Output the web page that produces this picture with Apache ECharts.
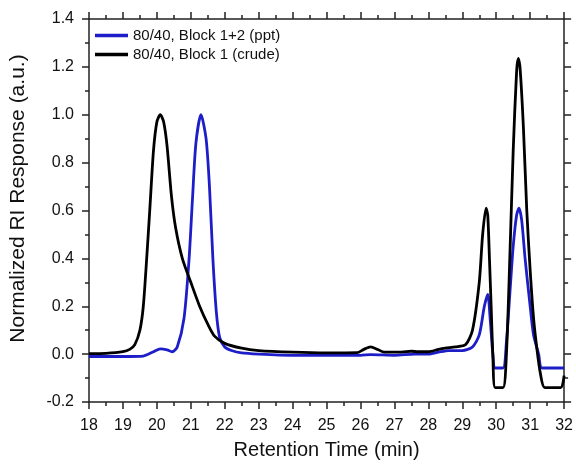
<!DOCTYPE html>
<html>
<head>
<meta charset="utf-8">
<script src="https://cdn.jsdelivr.net/npm/echarts@6/dist/echarts.min.js"></script>
<style>
html, body { margin: 0; padding: 0; background: #fff; }
#chart { width: 576px; height: 465px; }
</style>
</head>
<body>
<div id="chart"></div>
<script>
// 80/40, Block 1+2 (ppt)
var pptTime = [18.0, 19.0, 19.6, 19.9, 20.1, 20.3, 20.45, 20.6, 20.8, 20.95, 21.05, 21.15, 21.3, 21.45, 21.55, 21.65, 21.75, 21.85, 22.0, 22.2, 22.5, 23.0, 24.0, 26.0, 26.3, 27.0, 27.6, 28.0, 28.3, 28.6, 29.0, 29.3, 29.5, 29.65, 29.75, 29.82, 29.9, 29.97, 30.2, 30.3, 30.4, 30.5, 30.6, 30.67, 30.75, 30.85, 31.0, 31.1, 31.25, 31.35, 32.0];
var pptValue = [-0.01, -0.01, -0.008, 0.01, 0.022, 0.018, 0.01, 0.03, 0.15, 0.4, 0.65, 0.88, 1.0, 0.9, 0.7, 0.4, 0.18, 0.07, 0.03, 0.015, 0.005, 0.0, -0.005, -0.005, -0.002, -0.005, 0.0, 0.0, 0.008, 0.015, 0.015, 0.03, 0.08, 0.2, 0.25, 0.15, 0.0, -0.058, -0.058, 0.05, 0.25, 0.45, 0.58, 0.61, 0.56, 0.4, 0.2, 0.08, 0.0, -0.058, -0.058];

// 80/40, Block 1 (crude)
var crudeTime = [18.0, 18.5, 19.0, 19.2, 19.35, 19.5, 19.6, 19.7, 19.79, 19.9, 20.0, 20.1, 20.2, 20.3, 20.43, 20.55, 20.75, 21.0, 21.26, 21.5, 21.7, 22.0, 22.5, 23.0, 24.0, 25.0, 25.9, 26.1, 26.3, 26.5, 26.7, 27.2, 27.5, 27.7, 28.0, 28.3, 28.5, 28.8, 29.1, 29.3, 29.5, 29.6, 29.7, 29.75, 29.8, 29.85, 29.9, 29.97, 30.2, 30.3, 30.4, 30.5, 30.6, 30.65, 30.7, 30.8, 30.9, 31.0, 31.1, 31.2, 31.3, 31.43, 31.9, 32.0];
var crudeValue = [0.002, 0.003, 0.01, 0.02, 0.04, 0.1, 0.2, 0.4, 0.6, 0.85, 0.97, 1.0, 0.97, 0.87, 0.66, 0.53, 0.4, 0.3, 0.2, 0.125, 0.075, 0.045, 0.025, 0.015, 0.008, 0.005, 0.006, 0.02, 0.03, 0.02, 0.008, 0.008, 0.012, 0.01, 0.01, 0.02, 0.025, 0.03, 0.04, 0.1, 0.3, 0.5, 0.61, 0.58, 0.4, 0.2, 0.0, -0.14, -0.14, 0.0, 0.4, 0.85, 1.18, 1.235, 1.2, 0.95, 0.6, 0.35, 0.15, 0.02, -0.08, -0.14, -0.14, -0.09];

var seriesNames = ['80/40, Block 1+2 (ppt)', '80/40, Block 1 (crude)'];

function pairs(xs, ys) {
	var out = [];
	for (var i = 0; i < xs.length; i++) {
		out.push([xs[i], ys[i]]);
	}
	return out;
}

var myChart = echarts.init(document.getElementById('chart'));
var font = 'Liberation Sans, Arial, sans-serif';
var axisLine = { onZero: false, lineStyle: { color: '#222', width: 1.5 } };
// ticks point outward on all four sides
var tick = { inside: false, length: 7, lineStyle: { color: '#222', width: 1.5 } };
var minor = { show: true, splitNumber: 2, length: 4, lineStyle: { color: '#222', width: 1.5 } };

var option = {
	animation: false,
	backgroundColor: '#fff',
	textStyle: { fontFamily: font },
	grid: { left: 89, right: 10, top: 19, bottom: 60 },
	legend: {
		orient: 'vertical',
		left: 90,
		top: 23,
		itemWidth: 33,
		itemHeight: 10,
		itemGap: 4,
		textStyle: { fontFamily: font, fontSize: 15, color: '#111' },
		data: [
			{ name: seriesNames[0], icon: 'path://M0,0 L10,0 L10,1 L0,1 Z' },
			{ name: seriesNames[1], icon: 'path://M0,0 L10,0 L10,1 L0,1 Z' }
		]
	},
	xAxis: [{
		type: 'value',
		min: 18, max: 32, interval: 1,
		name: 'Retention Time (min)',
		nameLocation: 'middle',
		nameGap: 38,
		nameTextStyle: { fontSize: 20, color: '#111', fontFamily: font },
		axisLine: axisLine,
		axisTick: tick,
		minorTick: minor,
		axisLabel: { fontSize: 16, color: '#111', margin: 16, fontFamily: font },
		splitLine: { show: false }
	}, {
		type: 'value',
		position: 'top',
		min: 18, max: 32, interval: 1,
		axisLine: axisLine,
		axisTick: tick,
		minorTick: minor,
		axisLabel: { show: false },
		splitLine: { show: false }
	}],
	yAxis: [{
		type: 'value',
		min: -0.2, max: 1.4, interval: 0.2,
		name: 'Normalized RI Response (a.u.)',
		nameLocation: 'middle',
		nameGap: 60,
		nameTextStyle: { fontSize: 21, color: '#111', fontFamily: font, padding: [0, 0, 0, 24] },
		axisLine: axisLine,
		axisTick: tick,
		minorTick: minor,
		axisLabel: {
			fontSize: 16, color: '#111', margin: 15, fontFamily: font,
			formatter: function (v) { return v.toFixed(1); }
		},
		splitLine: { show: false }
	}, {
		type: 'value',
		position: 'right',
		min: -0.2, max: 1.4, interval: 0.2,
		axisLine: axisLine,
		axisTick: tick,
		minorTick: minor,
		axisLabel: { show: false },
		splitLine: { show: false }
	}],
	series: [{
		name: seriesNames[0],
		type: 'line',
		data: pairs(pptTime, pptValue),
		showSymbol: false,
		smooth: 0.25,
		color: '#1e1ec8',
		lineStyle: { color: '#1e1ec8', width: 2.8 }
	}, {
		name: seriesNames[1],
		type: 'line',
		data: pairs(crudeTime, crudeValue),
		showSymbol: false,
		smooth: 0.25,
		color: '#000',
		lineStyle: { color: '#000', width: 2.8 }
	}]
};
myChart.setOption(option);
</script>
</body>
</html>
